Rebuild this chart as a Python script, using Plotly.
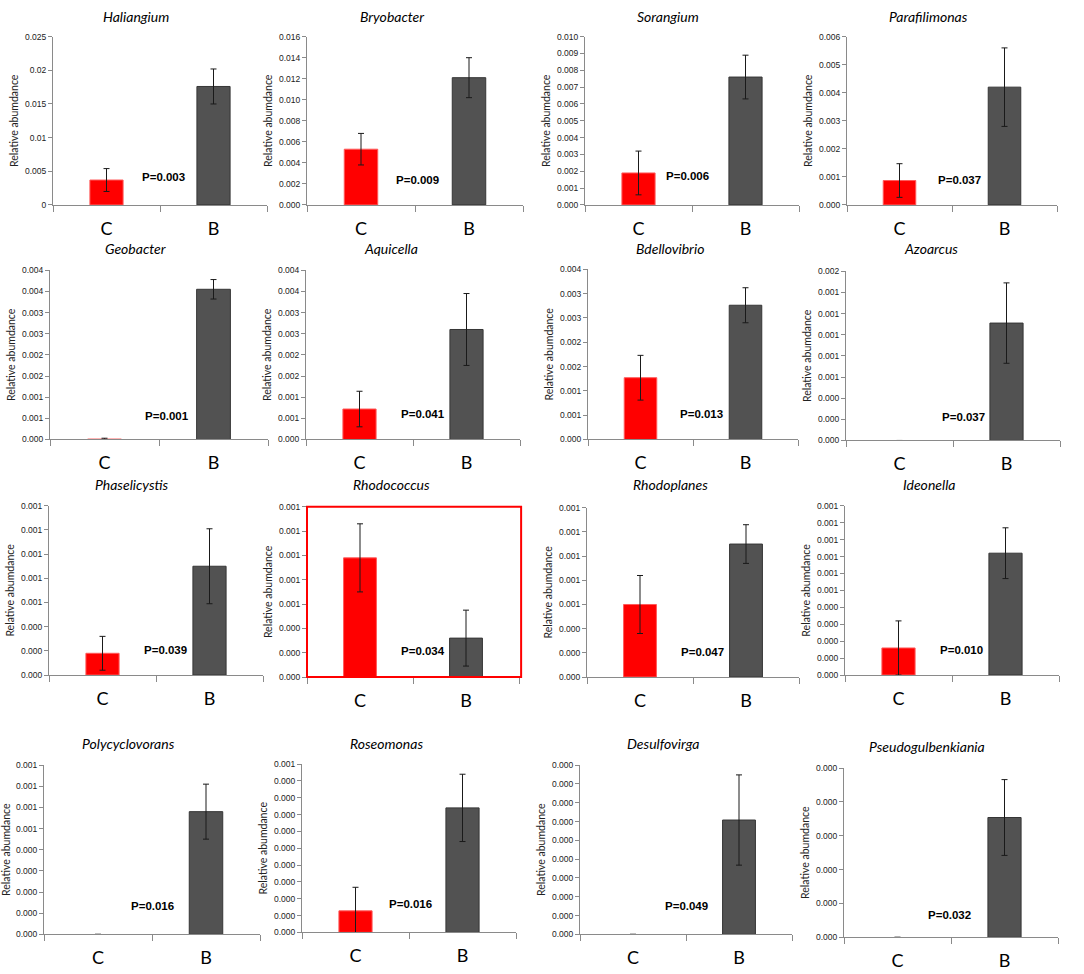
import plotly.graph_objects as go

# ---------------- data ----------------
genera = ["Haliangium", "Bryobacter", "Sorangium", "Parafilimonas",
          "Geobacter", "Aquicella", "Bdellovibrio", "Azoarcus",
          "Phaselicystis", "Rhodococcus", "Rhodoplanes", "Ideonella",
          "Polycyclovorans", "Roseomonas", "Desulfovirga", "Pseudogulbenkiania"]
groups = ["C", "B"]
c_mean = [0.0037, 0.0053, 0.0019, 0.00087,
          0.00001, 0.00072, 0.00127, 0.0,
          0.00018, 0.00098, 0.0006, 0.00016,
          0.0, 0.000064, 0.0, 0.0]
c_err = [0.0017, 0.0015, 0.0013, 0.0006,
         0.00002, 0.00042, 0.00046, 0.0,
         0.00014, 0.00028, 0.00024, 0.00016,
         0.0, 0.00007, 0.0, 0.0]
b_mean = [0.0176, 0.0121, 0.0076, 0.0042,
          0.00355, 0.0026, 0.00276, 0.00111,
          0.0009, 0.00032, 0.0011, 0.00072,
          0.00058, 0.00037, 0.000304, 0.000177]
b_err = [0.0026, 0.0019, 0.0013, 0.0014,
         0.00023, 0.00085, 0.00036, 0.00038,
         0.00031, 0.00023, 0.00016, 0.00015,
         0.00013, 0.0001, 0.00012, 0.000056]
p_values = ["P=0.003", "P=0.009", "P=0.006", "P=0.037",
            "P=0.001", "P=0.041", "P=0.013", "P=0.037",
            "P=0.039", "P=0.034", "P=0.047", "P=0.010",
            "P=0.016", "P=0.016", "P=0.049", "P=0.032"]
y_max = [0.025, 0.016, 0.010, 0.006,
         0.004, 0.004, 0.0035, 0.0016,
         0.0014, 0.0014, 0.0014, 0.001,
         0.0008, 0.0005, 0.00045, 0.00025]
y_step = [0.005, 0.002, 0.001, 0.001,
          0.0005, 0.0005, 0.0005, 0.0002,
          0.0002, 0.0002, 0.0002, 0.0001,
          0.0001, 0.00005, 0.00005, 0.00005]
y_ticktext = [
    ["0", "0.005", "0.01", "0.015", "0.02", "0.025"],
    ["0.000", "0.002", "0.004", "0.006", "0.008", "0.010", "0.012", "0.014", "0.016"],
    ["0.000", "0.001", "0.002", "0.003", "0.004", "0.005", "0.006", "0.007", "0.008", "0.009", "0.010"],
    ["0.000", "0.001", "0.002", "0.003", "0.004", "0.005", "0.006"],
    ["0.000", "0.001", "0.001", "0.002", "0.002", "0.003", "0.003", "0.004", "0.004"],
    ["0.000", "0.001", "0.001", "0.002", "0.002", "0.003", "0.003", "0.004", "0.004"],
    ["0.000", "0.001", "0.001", "0.002", "0.002", "0.003", "0.003", "0.004"],
    ["0.000", "0.000", "0.000", "0.001", "0.001", "0.001", "0.001", "0.001", "0.002"],
    ["0.000", "0.000", "0.000", "0.001", "0.001", "0.001", "0.001", "0.001"],
    ["0.000", "0.000", "0.000", "0.001", "0.001", "0.001", "0.001", "0.001"],
    ["0.000", "0.000", "0.000", "0.001", "0.001", "0.001", "0.001", "0.001"],
    ["0.000", "0.000", "0.000", "0.000", "0.000", "0.001", "0.001", "0.001", "0.001", "0.001", "0.001"],
    ["0.000", "0.000", "0.000", "0.000", "0.000", "0.001", "0.001", "0.001", "0.001"],
    ["0.000", "0.000", "0.000", "0.000", "0.000", "0.000", "0.000", "0.000", "0.000", "0.000", "0.001"],
    ["0.000", "0.000", "0.000", "0.000", "0.000", "0.000", "0.000", "0.000", "0.000", "0.000"],
    ["0.000", "0.000", "0.000", "0.000", "0.000", "0.000"],
]
highlight = "Rhodococcus"

# ---------------- layout (pixel geometry of the 1084x974 page) ----------------
W, H = 1084, 974

def px(xp):
    return xp / W

def py(yp):
    return 1 - yp / H

# plot-area boxes: left, right, top, bottom (px)
boxes = [
    (53, 267, 32, 202), (307, 523, 32, 202), (585, 799, 32, 202), (847, 1057, 32, 202),
    (50, 268, 268, 439), (306, 520, 268, 439), (588, 798, 267, 439), (846, 1060, 269, 440),
    (49, 263, 506, 677), (307, 519, 507, 679), (587, 799, 508, 679), (845, 1059, 506, 677),
    (44, 260, 768, 939), (302, 516, 767, 937), (580, 792, 768, 939), (844, 1058, 771, 942),
]
title_pos = [
    (136, 12), (392, 12), (668, 12), (928, 12),
    (135, 246), (391, 246), (670, 246), (931, 246),
    (132, 484), (391, 484), (670, 484), (929, 484),
    (128, 746), (386, 746), (663, 746), (927, 749),
]
p_pos = [  # (y fraction of plot height, x shift px)
    (0.165, 3), (0.147, 2), (0.17, -5), (0.147, 7),
    (0.14, 8), (0.15, 10), (0.15, 8), (0.14, 10),
    (0.15, 9), (0.15, 10), (0.15, 9), (0.15, 9),
    (0.17, 0), (0.17, 1), (0.17, 0), (0.13, -2),
]

AXIS_GREY = "#8a8a8a"
TICK_FONT = "Liberation Sans, Arial, sans-serif"
MAIN_FONT = "Lato, Open Sans, sans-serif"

fig = go.Figure()
layout = dict(width=W, height=H, margin=dict(l=0, r=0, t=0, b=0),
              paper_bgcolor="white", plot_bgcolor="white", showlegend=False)
annotations = []
shapes = []

for i, name in enumerate(genera):
    k = i + 1
    xa = "x" if k == 1 else f"x{k}"
    ya = "y" if k == 1 else f"y{k}"
    L, R, T, B = boxes[i]
    errs = [e if e > 0 else None for e in (c_err[i], b_err[i])]
    fig.add_trace(go.Bar(
        x=[0, 1], y=[c_mean[i], b_mean[i]], width=0.31,
        marker=dict(color=["#FF0000", "#525252"],
                    line=dict(color=["#FF5a5a", "#363636"],
                              width=[1 if c_mean[i] > 0 else 0, 1])),
        error_y=dict(type="data", array=errs, visible=True,
                     color="#1a1a1a", thickness=1, width=3),
        xaxis=xa, yaxis=ya, hoverinfo="skip"))
    n = len(y_ticktext[i])
    tickvals = [round(j * y_step[i], 8) for j in range(n)]
    layout[f"xaxis{k}"] = dict(
        domain=[px(L), px(R)], anchor=ya, range=[-0.5, 1.5],
        tickmode="array", tickvals=[0, 1], ticktext=groups, ticks="",
        ticklabelstandoff=7,
        tickfont=dict(family=MAIN_FONT, size=18, color="#000"),
        showline=True, linecolor=AXIS_GREY, linewidth=1,
        showgrid=False, zeroline=False, fixedrange=True,
        minor=dict(tickvals=[-0.5, 0.5, 1.5], ticks="outside", ticklen=6,
                   tickcolor=AXIS_GREY, tickwidth=1, showgrid=False))
    layout[f"yaxis{k}"] = dict(
        domain=[py(B), py(T)], anchor=xa, range=[0, y_max[i]],
        tickmode="array", tickvals=tickvals, ticktext=y_ticktext[i],
        ticks="outside", ticklen=4, tickcolor=AXIS_GREY,
        tickfont=dict(family=TICK_FONT, size=8.5, color="#222"),
        showline=True, linecolor=AXIS_GREY, linewidth=1,
        showgrid=False, zeroline=False, fixedrange=True,
        title=dict(text="Relative abumdance", standoff=4,
                   font=dict(family=MAIN_FONT, size=10.5, color="#222")))
    tx, ty = title_pos[i]
    annotations.append(dict(
        text=f"<i>{name}</i>", x=px(tx), y=py(ty), xref="paper", yref="paper",
        xanchor="center", yanchor="middle", showarrow=False,
        font=dict(family=MAIN_FONT, size=14, color="#000")))
    pyf, pxs = p_pos[i]
    annotations.append(dict(
        text=f"<b>{p_values[i]}</b>", x=0.5, y=pyf, xref=xa, yref=f"{ya} domain",
        xanchor="center", yanchor="middle", xshift=pxs, showarrow=False,
        font=dict(family=TICK_FONT, size=11.5, color="#000")))
    if name == highlight:
        shapes.append(dict(type="rect", xref=f"{xa} domain", yref=f"{ya} domain",
                           x0=0, x1=1.01, y0=0, y1=1,
                           line=dict(color="#FF0000", width=2)))

layout["annotations"] = annotations
layout["shapes"] = shapes
fig.update_layout(**layout)
fig.write_html(
    "out.html",
    config={"displayModeBar": False, "staticPlot": True},
    post_script=("document.documentElement.style.margin='0';"
                 "document.body.style.margin='0';"
                 "document.documentElement.style.overflow='hidden';"
                 "document.body.style.overflow='hidden';"))
